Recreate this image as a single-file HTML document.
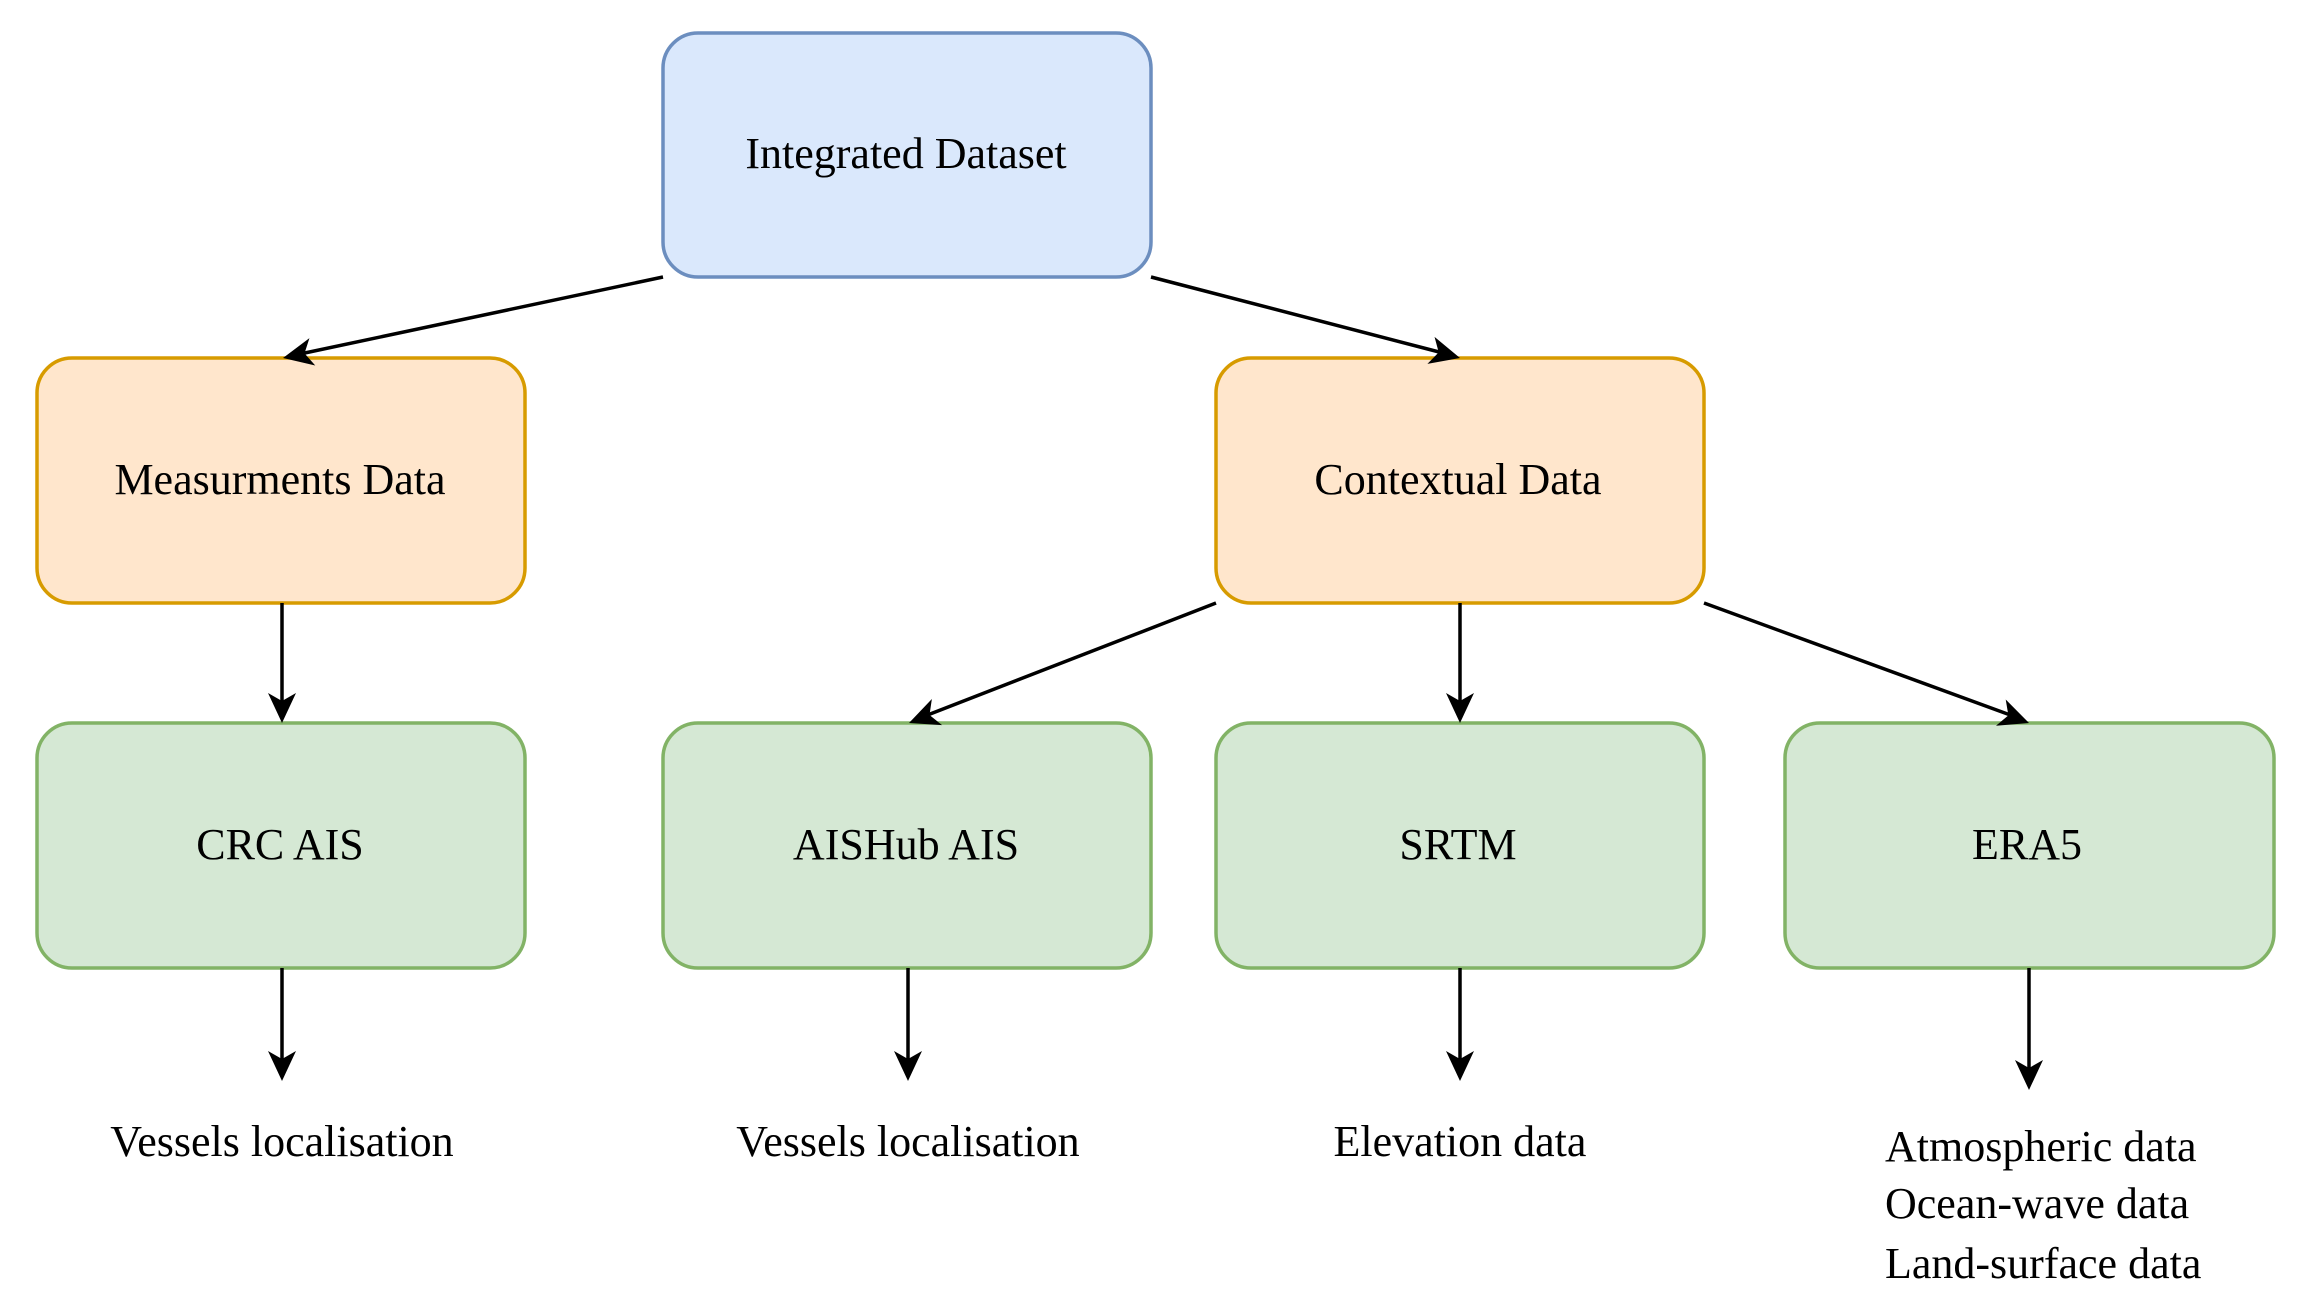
<!DOCTYPE html>
<html><head><meta charset="utf-8"><style>
html,body{margin:0;padding:0;background:#fff;}
svg{display:block;}
text{font-family:"Liberation Serif",serif;font-size:44px;fill:#000;}
</style></head><body>
<svg width="2300" height="1305" viewBox="0 0 2300 1305" xmlns="http://www.w3.org/2000/svg">
<defs>
<marker id="a" markerWidth="12" markerHeight="12" refX="10" refY="5" orient="auto" markerUnits="userSpaceOnUse" viewBox="0 0 12 10" style="overflow:visible">
</marker>
</defs>
<g stroke-width="3.5">
<rect x="663" y="33" width="488" height="244" rx="35" fill="#dae8fc" stroke="#6c8ebf"/>
<rect x="37" y="358" width="488" height="245" rx="35" fill="#ffe6cc" stroke="#d79b00"/>
<rect x="1216" y="358" width="488" height="245" rx="35" fill="#ffe6cc" stroke="#d79b00"/>
<rect x="37" y="723" width="488" height="245" rx="35" fill="#d5e8d4" stroke="#82b366"/>
<rect x="663" y="723" width="488" height="245" rx="35" fill="#d5e8d4" stroke="#82b366"/>
<rect x="1216" y="723" width="488" height="245" rx="35" fill="#d5e8d4" stroke="#82b366"/>
<rect x="1785" y="723" width="489" height="245" rx="35" fill="#d5e8d4" stroke="#82b366"/>
</g>
<g stroke="#000" stroke-width="3.5" fill="none">
<line x1="663" y1="277" x2="300" y2="354"/>
<line x1="1151" y1="277" x2="1443" y2="353"/>
<line x1="282" y1="603" x2="282" y2="706"/>
<line x1="1216" y1="603" x2="925" y2="716"/>
<line x1="1460" y1="603" x2="1460" y2="706"/>
<line x1="1704" y1="603" x2="2013" y2="716"/>
<line x1="282" y1="968" x2="282" y2="1064"/>
<line x1="908" y1="968" x2="908" y2="1064"/>
<line x1="1460" y1="968" x2="1460" y2="1064"/>
<line x1="2029" y1="968" x2="2029" y2="1073"/>
</g>
<g fill="#000">
<!-- arrowheads: tip, then shape -->
<g transform="translate(283,358) rotate(168)"><path d="M0,0 L-30,-14 L-22,0 L-30,14 Z"/></g>
<g transform="translate(1460,358) rotate(14.7)"><path d="M0,0 L-30,-14 L-22,0 L-30,14 Z"/></g>
<g transform="translate(282,723) rotate(90)"><path d="M0,0 L-30,-14 L-22,0 L-30,14 Z"/></g>
<g transform="translate(909,723) rotate(158.7)"><path d="M0,0 L-30,-14 L-22,0 L-30,14 Z"/></g>
<g transform="translate(1460,723) rotate(90)"><path d="M0,0 L-30,-14 L-22,0 L-30,14 Z"/></g>
<g transform="translate(2029,723) rotate(20.3)"><path d="M0,0 L-30,-14 L-22,0 L-30,14 Z"/></g>
<g transform="translate(282,1081) rotate(90)"><path d="M0,0 L-30,-14 L-22,0 L-30,14 Z"/></g>
<g transform="translate(908,1081) rotate(90)"><path d="M0,0 L-30,-14 L-22,0 L-30,14 Z"/></g>
<g transform="translate(1460,1081) rotate(90)"><path d="M0,0 L-30,-14 L-22,0 L-30,14 Z"/></g>
<g transform="translate(2029,1090) rotate(90)"><path d="M0,0 L-30,-14 L-22,0 L-30,14 Z"/></g>
</g>
<g text-anchor="middle">
<text x="906" y="168">Integrated Dataset</text>
<text x="280" y="494">Measurments Data</text>
<text x="1458" y="494">Contextual Data</text>
<text x="280" y="859">CRC AIS</text>
<text x="906" y="859">AISHub AIS</text>
<text x="1458" y="859">SRTM</text>
<text x="2027" y="859">ERA5</text>
<text x="282" y="1156">Vessels localisation</text>
<text x="908" y="1156">Vessels localisation</text>
<text x="1460" y="1156">Elevation data</text>
</g>
<text x="1885" y="1161">Atmospheric data</text>
<text x="1885" y="1218">Ocean-wave data</text>
<text x="1885" y="1278">Land-surface data</text>
</svg>
</body></html>
